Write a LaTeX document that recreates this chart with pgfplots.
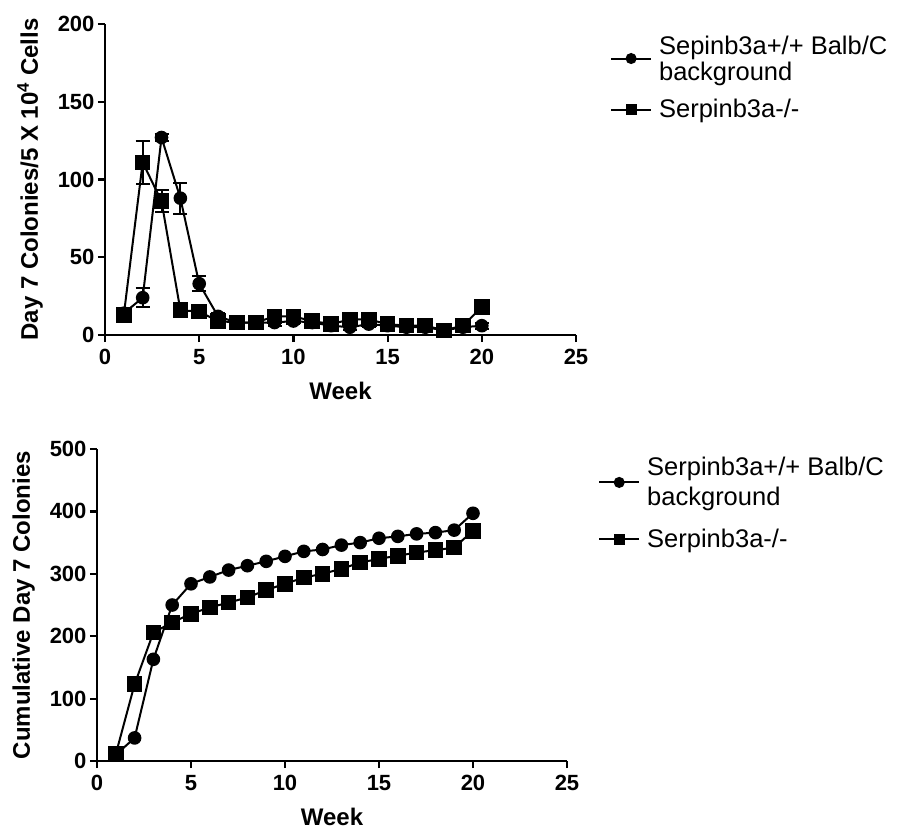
\documentclass[border=0pt]{standalone}
\usepackage{fontspec}
\setmainfont{Liberation Sans}
\usepackage{pgfplots}
\pgfplotsset{compat=1.18}
\pgfplotsset{prism/.style={
  scale only axis,
  xmin=0, xmax=25,
  axis x line=bottom, axis y line=left,
  axis line style={line width=2.2pt, -},
  tick style={black, line width=2.2pt},
  major tick length=7pt, tick align=outside,
  xtick={0,5,...,25},
  ticklabel style={font=\fontsize{22}{24}\selectfont\bfseries},
  xticklabel style={yshift=-4pt},
  /pgf/number format/assume math mode=true,
  label style={font=\fontsize{24}{28}\selectfont\bfseries},
  xlabel={Week},
  xlabel shift=10pt,
  ylabel shift=8pt,
  clip=false,
  legend cell align=left,
  legend style={draw=none, fill=none, anchor=north west, inner sep=0pt,
    cells={align=left}, column sep=5pt},
  legend image code/.code={\draw[#1, mark repeat=2, mark phase=2, mark size=4.5pt] plot coordinates {(0pt,0pt) (20pt,0pt) (40pt,0pt)};},
}}
\pgfplotsset{wt/.style={black, line width=2pt, mark=*, mark size=5.8pt, mark options={solid, fill=black}},
         ko/.style={black, line width=2pt, mark=square*, mark size=6.8pt, mark options={solid, fill=black}}}
\begin{document}
\begin{tikzpicture}
\path[use as bounding box] (0,0) rectangle (897pt,-836pt);
\begin{axis}[prism, at={(105pt,-335pt)}, anchor=south west,
  width=471pt, height=311pt,
  ymin=0, ymax=200, ytick={0,50,...,200},
  ylabel={Day 7 Colonies/5 X 10\textsuperscript{4} Cells},
  legend style={at={(1.072,0.97)}, row sep=14pt, font=\fontsize{25.5}{26}\selectfont}]
\addplot[wt, error bars/.cd, y dir=both, y explicit, error mark=-,
  error mark options={rotate=90, black, line width=2pt, mark size=7pt},
  error bar style={black, line width=2pt}] coordinates {
(1,14) +- (0,3) (2,24) +- (0,6) (3,127) +- (0,2) (4,88) +- (0,10) (5,33) +- (0,5)
(6,12) +- (0,2) (7,8) +- (0,2) (8,8) +- (0,2) (9,8) +- (0,2) (10,9) +- (0,2)
(11,8) +- (0,2) (12,6) +- (0,2) (13,5) +- (0,2) (14,7) +- (0,2) (15,6) +- (0,2)
(16,5) +- (0,2) (17,5) +- (0,2) (18,3) +- (0,2) (19,5) +- (0,2) (20,6) +- (0,2)};
\addlegendentry{Sepinb3a+/+ Balb/C\\background}
\addplot[ko, error bars/.cd, y dir=both, y explicit, error mark=-,
  error mark options={rotate=90, black, line width=2pt, mark size=7pt},
  error bar style={black, line width=2pt}] coordinates {
(1,13) +- (0,4) (2,111) +- (0,14) (3,86) +- (0,7) (4,16) +- (0,2) (5,15) +- (0,2)
(6,9) +- (0,3) (7,8) +- (0,2) (8,8) +- (0,2) (9,12) +- (0,3) (10,12) +- (0,3)
(11,9) +- (0,2) (12,7) +- (0,2) (13,10) +- (0,3) (14,10) +- (0,3) (15,7) +- (0,2)
(16,6) +- (0,2) (17,6) +- (0,2) (18,3) +- (0,2) (19,6) +- (0,2) (20,18) +- (0,2)};
\addlegendentry{\rule{0pt}{16pt}Serpinb3a-/-}
\end{axis}
\begin{axis}[prism, at={(97pt,-761pt)}, anchor=south west,
  width=470pt, height=312pt,
  ymin=0, ymax=500, ytick={0,100,...,500},
  ylabel={Cumulative Day 7 Colonies},
  legend style={at={(1.066,0.98)}, row sep=18pt, font=\fontsize{25.5}{30}\selectfont}]
\addplot[wt] coordinates {
(1,10) (2,37) (3,163) (4,250) (5,284) (6,295) (7,306) (8,313) (9,320) (10,328)
(11,336) (12,339) (13,346) (14,350) (15,357) (16,360) (17,364) (18,366) (19,370) (20,397)};
\addlegendentry{Serpinb3a+/+ Balb/C\\background}
\addplot[ko] coordinates {
(1,11) (2,123) (3,206) (4,222) (5,236) (6,246) (7,254) (8,262) (9,274) (10,284)
(11,294) (12,300) (13,308) (14,318) (15,324) (16,329) (17,334) (18,338) (19,342) (20,369)};
\addlegendentry{Serpinb3a-/-}
\end{axis}
\end{tikzpicture}
\end{document}
